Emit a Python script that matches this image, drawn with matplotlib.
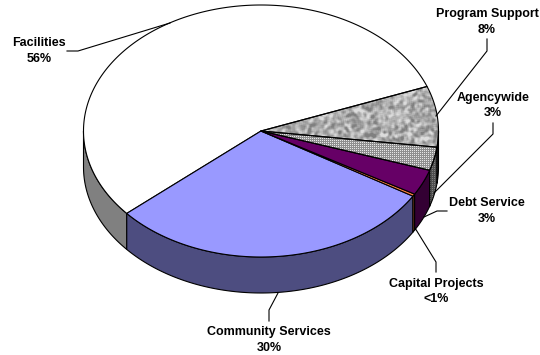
import numpy as np
import matplotlib
matplotlib.use("Agg")
import matplotlib.pyplot as plt
from matplotlib.patches import Polygon

# Budget shares in drawing order, counter-clockwise from the Facilities slice
categories = ["Facilities", "Community Services", "Capital Projects",
              "Debt Service", "Agencywide", "Program Support"]
shares = [55.6, 30.0, 0.3, 3.3, 3.0, 7.8]
share_labels = ["56%", "30%", "<1%", "3%", "3%", "8%"]

top_colors = ["#ffffff", "#9999ff", "#ff8040", "#660066", None, None]
side_colors = ["#808080", "#4d4d80", "#804020", "#330033", None, None]

# Pie geometry in pixels
CX, CY = 261.0, 131.0
RX, RY = 177.5, 126.0
DEPTH = 36.0
START_ANGLE = 20.7

label_centers = [(39, 43.5), (269, 332.5), (436, 283.5), (487, 203.5), (493, 97.5), (487, 14.5)]
leaders = [
    [(67, 51), (78, 51), (170, 23)],
    [(269, 321), (269, 310), (278, 293)],
    [(436, 272), (436, 262), (415, 228)],
    [(447, 211), (437, 211), (424, 217)],
    [(493, 123), (493, 134), (434, 193)],
    [(487, 39), (487, 51), (436, 116)],
]

LW = 0.8
plt.rcParams["font.family"] = ["Liberation Sans", "DejaVu Sans"]


def point(deg, drop=0.0):
    a = np.radians(deg)
    return CX + RX * np.cos(a), CY - RY * np.sin(a) + drop


def arc(a0, a1, drop=0.0):
    t = np.linspace(a0, a1, max(int(abs(a1 - a0)) * 2, 2) + 1)
    return np.column_stack(point(t, drop))


def mottled(h, w):
    """Soft speckle built from a hash of the pixel position."""
    yy, xx = np.mgrid[0:h, 0:w].astype(float)
    n = np.sin(xx * 12.9898 + yy * 78.233) * 43758.5453
    n = n - np.floor(n)
    for _ in range(2):
        n = sum(np.roll(np.roll(n, i, 0), j, 1)
                for i in (-1, 0, 1) for j in (-1, 0, 1)) / 9
    lo, hi = np.percentile(n, [3, 97])
    n = np.clip((n - lo) / (hi - lo), 0, 1)
    return 0.50 + 0.36 * n


def checks(h, w):
    yy, xx = np.mgrid[0:h, 0:w]
    return np.where((xx % 2 == 0) & (yy % 2 == 0), 0.90, 0.56)


H, W = 355, 540
fig = plt.figure(figsize=(5.4, 3.55), dpi=100)
ax = fig.add_axes([0, 0, 1, 1])
ax.set_axis_off()

fractions = np.array(shares) / np.sum(shares)
edges = START_ANGLE + 360 * np.concatenate([[0], np.cumsum(fractions)])
textures = {4: checks(H, W), 5: mottled(H, W)}


def fill(poly, index, dim=1.0):
    """Fill a polygon with the slice's flat colour or its texture."""
    if index in textures:
        patch = Polygon(poly, closed=True, facecolor="none", edgecolor="none", zorder=2)
        ax.add_patch(patch)
        im = ax.imshow(textures[index] * dim, cmap="gray", vmin=0, vmax=1,
                       extent=(0, W, H, 0), interpolation="nearest", zorder=2)
        im.set_clip_path(patch)
    outline = Polygon(poly, closed=True, linewidth=LW, edgecolor="black", zorder=3,
                      facecolor="none" if index in textures else
                      (side_colors[index] if dim < 1 else top_colors[index]),
                      joinstyle="round")
    ax.add_patch(outline)


# Rim: only the part of each slice facing the viewer (180..360 degrees)
for i, (a0, a1) in enumerate(zip(edges[:-1], edges[1:])):
    lo, hi = max(a0, 180), min(a1, 360)
    if hi > lo:
        poly = np.vstack([arc(lo, hi), arc(hi, lo, DEPTH)])
        fill(poly, i, dim=0.55)

# Top faces
for i, (a0, a1) in enumerate(zip(edges[:-1], edges[1:])):
    poly = np.vstack([[(CX, CY)], arc(a0, a1)])
    fill(poly, i)

# Leader lines and labels
for pts in leaders:
    xs, ys = zip(*pts)
    ax.plot(xs, ys, color="black", lw=LW, zorder=4, solid_joinstyle="round")

for name, pct, (x, y) in zip(categories, share_labels, label_centers):
    ax.text(x, y, name, ha="center", va="center", fontsize=9, fontweight="bold", zorder=5)
    ax.text(x, y + 15.7, pct, ha="center", va="center", fontsize=9, fontweight="bold", zorder=5)

ax.set_xlim(0, W)
ax.set_ylim(H, 0)
ax.set_aspect("auto")
fig.savefig("out.png", dpi=100, facecolor="white")
